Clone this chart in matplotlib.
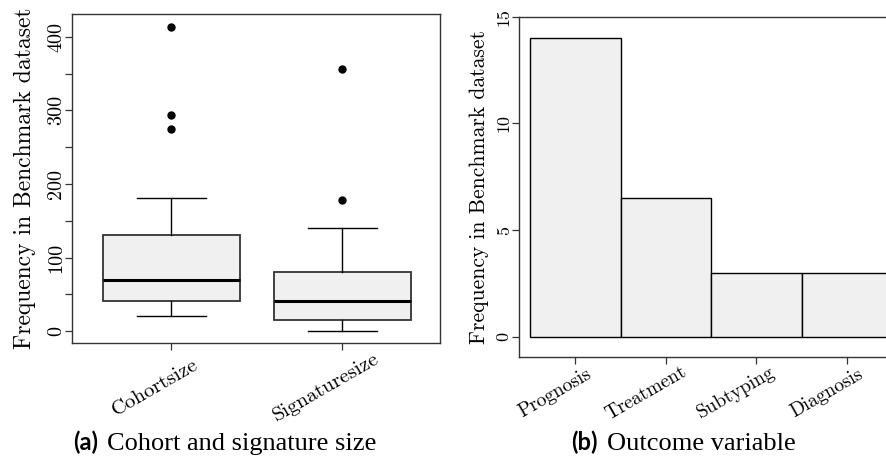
import matplotlib.pyplot as plt
from matplotlib.transforms import offset_copy

plt.rcParams['font.family'] = ['cmr10', 'DejaVu Serif']
plt.rcParams['axes.formatter.use_mathtext'] = True

# panel (a): box plot summaries
box_names = ['Cohortsize', 'Signaturesize']
whisker_low = [20, 0]
q1 = [41, 15]
medians = [69, 41]
q3 = [130, 80]
whisker_high = [181, 140]
outliers = [[413, 294, 275], [356, 178]]

# panel (b): outcome variable counts
outcome_names = ['Prognosis', 'Treatment', 'Subtyping', 'Diagnosis']
outcome_counts = [14, 6.5, 3, 3]

fill = '#f0f0f0'
edge = '#333333'

fig = plt.figure(figsize=(8.87, 4.57), dpi=100)

# ---- left panel
ax1 = fig.add_axes([72/887, 1-343.3/457, (440-72)/887, (343.3-14)/457])
stats = []
for i, name in enumerate(box_names):
    stats.append(dict(label=name, whislo=whisker_low[i], q1=q1[i], med=medians[i],
                      q3=q3[i], whishi=whisker_high[i], fliers=outliers[i]))
ax1.bxp(stats, positions=[1, 2], widths=0.8, patch_artist=True,
        boxprops=dict(facecolor=fill, edgecolor=edge, linewidth=1.3),
        medianprops=dict(color='black', linewidth=2.2),
        whiskerprops=dict(color='black', linewidth=1.0),
        capprops=dict(color='black', linewidth=1.0),
        capwidths=0.4,
        flierprops=dict(marker='o', markerfacecolor='black', markeredgecolor='black',
                        markersize=5))
ax1.set_xlim(0.42, 2.57)
ax1.set_ylim(-16.5, 431)
ax1.set_yticks(range(0, 401, 50))
ax1.set_yticklabels([str(v) if v % 100 == 0 else '' for v in range(0, 401, 50)],
                    rotation=90, va='center', fontsize=14.5)
ax1.set_xticks([1, 2])
ax1.set_xticklabels([])
ax1.set_ylabel('Frequency in Benchmark dataset', fontsize=17, labelpad=8)
ax1.tick_params(axis='y', pad=0)
for i, name in enumerate(box_names):
    tr = offset_copy(ax1.get_xaxis_transform(), fig=fig, x=-16, y=-44, units='dots')
    ax1.text(i + 1, 0, name, transform=tr, rotation=30, ha='center', va='center',
             fontsize=15, clip_on=False)

# ---- right panel
ax2 = fig.add_axes([519.3/887, 1-356.7/457, 383.7/887, (356.7-16.7)/457])
xs = list(range(len(outcome_names)))
ax2.bar(xs, outcome_counts, width=1.0, color=fill, edgecolor='black', linewidth=1.0)
ax2.set_xlim(-0.62, 3.62)
ax2.set_ylim(-0.93, 15)
ax2.set_yticks([0, 5, 10, 15])
ax2.set_yticklabels(['0', '5', '10', '15'], rotation=90, va='center', fontsize=13)
ax2.set_xticks(xs)
ax2.set_xticklabels([])
ax2.set_ylabel('Frequency in Benchmark dataset', fontsize=15.5, labelpad=5)
ax2.tick_params(axis='y', pad=0.5)
for i, name in enumerate(outcome_names):
    tr = offset_copy(ax2.get_xaxis_transform(), fig=fig, x=-20, y=-36, units='dots')
    ax2.text(i, 0, name, transform=tr, rotation=30, ha='center', va='center',
             fontsize=14, clip_on=False)

for ax in (ax1, ax2):
    for s in ax.spines.values():
        s.set_color(edge)
        s.set_linewidth(1.0)
    ax.tick_params(length=5, width=0.9, color=edge)

# captions
cap_y = 1 - 450/457
fig.text(98/887, cap_y, '(a)', fontsize=17, ha='right', va='baseline',
         family=['Lato', 'DejaVu Sans'], weight='bold')
fig.text(107/887, cap_y, 'Cohort and signature size', fontsize=19, ha='left',
         va='baseline', family=['Liberation Serif'])
fig.text(598/887, cap_y, '(b)', fontsize=17, ha='right', va='baseline',
         family=['Lato', 'DejaVu Sans'], weight='bold')
fig.text(607/887, cap_y, 'Outcome variable', fontsize=19, ha='left',
         va='baseline', family=['Liberation Serif'])

fig.savefig('out.png', dpi=100)
